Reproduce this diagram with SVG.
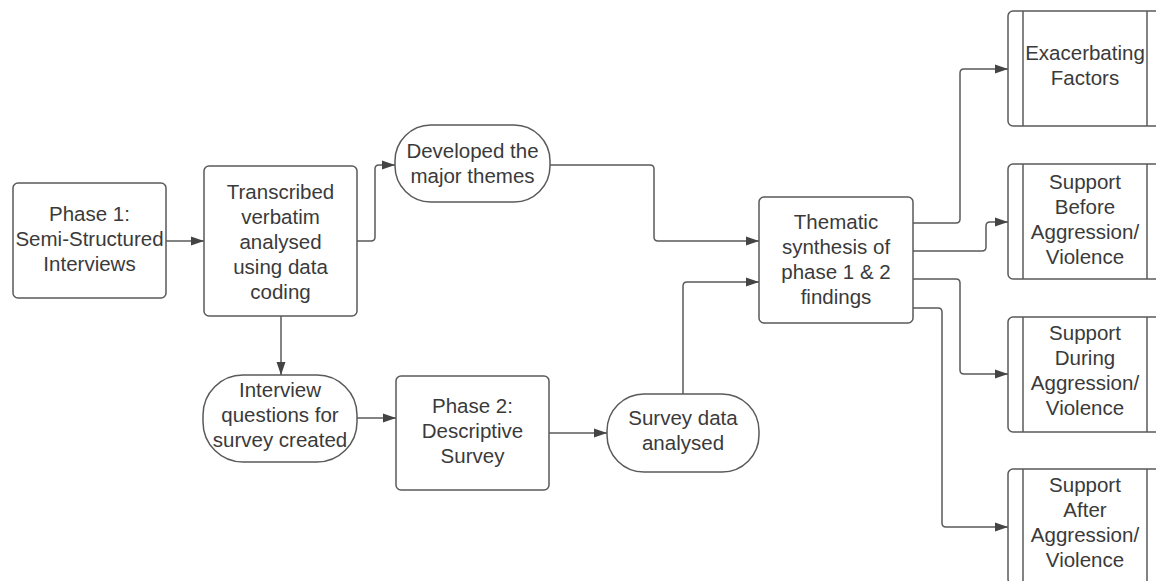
<svg xmlns="http://www.w3.org/2000/svg" width="1156" height="581" viewBox="0 0 1156 581">
<style>
.box{fill:#ffffff;stroke:#5a5a5a;stroke-width:1.5}
.ln{fill:none;stroke:#5a5a5a;stroke-width:1.5}
.conn path{fill:none;stroke:#5a5a5a;stroke-width:1.5;marker-end:url(#arr)}
text{font-family:"Liberation Sans",Arial,sans-serif;font-size:20.5px;fill:#3a3a3a;text-anchor:middle}
</style>
<defs>
<marker id="arr" markerUnits="userSpaceOnUse" markerWidth="14" markerHeight="10" refX="13" refY="5" orient="auto">
<path d="M0,0.5 L13,5 L0,9.5 z" fill="#444444"/>
</marker>
</defs>
<rect width="1156" height="581" fill="#ffffff"/>
<g class="conn" id="connectors">
<path d="M166,241 H204"/>
<path d="M357,241 H371 Q375,241 375,237 V169 Q375,165 379,165 H395"/>
<path d="M550,165 H650 Q654,165 654,169 V237 Q654,241 658,241 H759"/>
<path d="M281,316 V375"/>
<path d="M357,418 H396"/>
<path d="M549,433 H607"/>
<path d="M683,394 V286 Q683,282 687,282 H759"/>
<path d="M913,223 H956 Q960,223 960,219 V73 Q960,69 964,69 H1008"/>
<path d="M913,251 H982 Q986,251 986,247 V226 Q986,222 990,222 H1008"/>
<path d="M913,279 H956 Q960,279 960,283 V370 Q960,374 964,374 H1008"/>
<path d="M913,308 H938 Q942,308 942,312 V523 Q942,527 946,527 H1008"/>
</g>
<g id="phase1">
<rect class="box" x="13" y="183" width="153" height="115" rx="5"/>
<text x="89.5" y="221">Phase 1:</text>
<text x="89.5" y="246">Semi-Structured</text>
<text x="89.5" y="271">Interviews</text>
</g>
<g id="transcribed">
<rect class="box" x="204" y="166" width="153" height="150" rx="5"/>
<text x="280.5" y="199">Transcribed</text>
<text x="280.5" y="224">verbatim</text>
<text x="280.5" y="249">analysed</text>
<text x="280.5" y="274">using data</text>
<text x="280.5" y="299">coding</text>
</g>
<g id="developed">
<rect class="box" x="395" y="125" width="155" height="77" rx="36"/>
<text x="472.5" y="158">Developed the</text>
<text x="472.5" y="183">major themes</text>
</g>
<g id="interview">
<rect class="box" x="203" y="375" width="154" height="87" rx="40"/>
<text x="280" y="397">Interview</text>
<text x="280" y="422">questions for</text>
<text x="280" y="447">survey created</text>
</g>
<g id="phase2">
<rect class="box" x="396" y="376" width="153" height="114" rx="5"/>
<text x="472.5" y="413">Phase 2:</text>
<text x="472.5" y="438">Descriptive</text>
<text x="472.5" y="463">Survey</text>
</g>
<g id="survey">
<rect class="box" x="607" y="394" width="152" height="78" rx="37"/>
<text x="683" y="425">Survey data</text>
<text x="683" y="450">analysed</text>
</g>
<g id="thematic">
<rect class="box" x="759" y="197" width="154" height="126" rx="5"/>
<text x="836" y="229">Thematic</text>
<text x="836" y="254">synthesis of</text>
<text x="836" y="279">phase 1 &amp; 2</text>
<text x="836" y="304">findings</text>
</g>
<g id="exacerbating">
<rect class="box" x="1008" y="11" width="154" height="115" rx="5"/>
<line class="ln" x1="1023" y1="11" x2="1023" y2="126"/>
<line class="ln" x1="1147" y1="11" x2="1147" y2="126"/>
<text x="1085" y="60">Exacerbating</text>
<text x="1085" y="85">Factors</text>
</g>
<g id="before">
<rect class="box" x="1008" y="164" width="154" height="115" rx="5"/>
<line class="ln" x1="1023" y1="164" x2="1023" y2="279"/>
<line class="ln" x1="1147" y1="164" x2="1147" y2="279"/>
<text x="1085" y="189">Support</text>
<text x="1085" y="214">Before</text>
<text x="1085" y="239">Aggression/</text>
<text x="1085" y="264">Violence</text>
</g>
<g id="during">
<rect class="box" x="1008" y="317" width="154" height="115" rx="5"/>
<line class="ln" x1="1023" y1="317" x2="1023" y2="432"/>
<line class="ln" x1="1147" y1="317" x2="1147" y2="432"/>
<text x="1085" y="340">Support</text>
<text x="1085" y="365">During</text>
<text x="1085" y="390">Aggression/</text>
<text x="1085" y="415">Violence</text>
</g>
<g id="after">
<rect class="box" x="1008" y="469" width="154" height="115" rx="5"/>
<line class="ln" x1="1023" y1="469" x2="1023" y2="584"/>
<line class="ln" x1="1147" y1="469" x2="1147" y2="584"/>
<text x="1085" y="492">Support</text>
<text x="1085" y="517">After</text>
<text x="1085" y="542">Aggression/</text>
<text x="1085" y="567">Violence</text>
</g>
</svg>
